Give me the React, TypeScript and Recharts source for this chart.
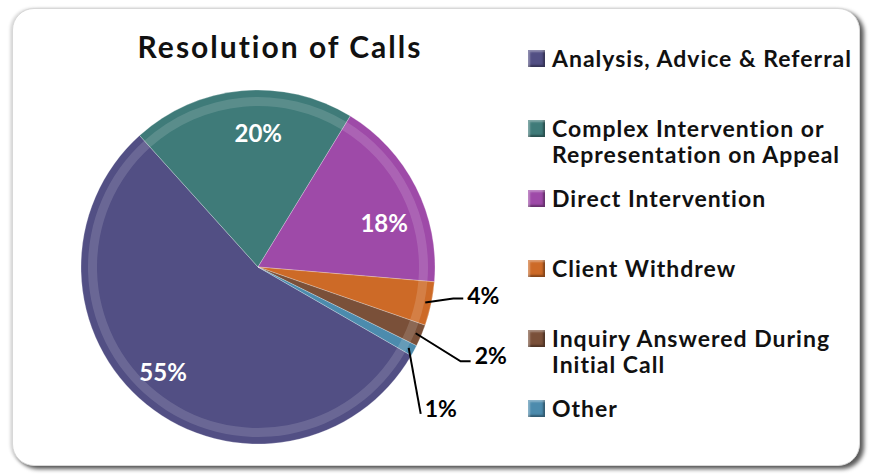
import React from 'react'
import { Cell, Legend, Pie, PieChart } from 'recharts'

const categories = [
  'Analysis, Advice & Referral',
  'Complex Intervention or\nRepresentation on Appeal',
  'Direct Intervention',
  'Client Withdrew',
  'Inquiry Answered During\nInitial Call',
  'Other',
]
const shares = [55, 20.4, 17.6, 4, 2, 1]
const colors = ['#524F84', '#3F7B79', '#9E4AA8', '#CD6A27', '#7A5039', '#4C8BAD']

const data = categories.map((name, i) => ({ name, value: shares[i] }))

const RADIAN = Math.PI / 180
const FONT = 'Lato, "Open Sans", sans-serif'

// nudges for the inside labels, and leader-line bends for the small outside ones
const nudges: Record<number, number[]> = {
  0: [-8, -3],
  1: [13, 3],
  2: [3, 18],
}
const bends: Record<number, number[]> = {
  3: [28, -4],
  4: [45, 28],
  5: [12, 66],
}

const renderLabel = (props: any) => {
  const { cx, cy, midAngle, outerRadius, percent, index } = props
  const text = `${Math.round(percent * 100)}%`
  const cos = Math.cos(-midAngle * RADIAN)
  const sin = Math.sin(-midAngle * RADIAN)
  if (index < 3) {
    const r = outerRadius * 0.78
    const [nx, ny] = nudges[index]
    return (
      <text x={cx + r * cos + nx} y={cy + r * sin + ny} fill='#fff' textAnchor='middle' dominantBaseline='central'
        style={{ fontFamily: FONT, fontWeight: 700, fontSize: 24 }}>
        {text}
      </text>
    )
  }
  const sx = cx + (outerRadius - 6) * cos
  const sy = cy + (outerRadius - 6) * sin
  const [bx, by] = bends[index]
  const mx = sx + bx
  const my = sy + by
  const ex = index === 5 ? mx : mx + 10
  return (
    <g>
      <polyline points={`${sx},${sy} ${mx},${my} ${ex},${my}`} fill='none' stroke='#000' strokeWidth={2} />
      <text x={ex + 4} y={index === 3 ? my - 4 : my - 6} fill='#000' textAnchor='start' dominantBaseline='central'
        style={{ fontFamily: FONT, fontWeight: 700, fontSize: 23 }}>
        {text}
      </text>
    </g>
  )
}

const renderLegend = () => (
  <div style={{ fontFamily: FONT }}>
    {categories.map((c, i) => (
      <div key={c} style={{ height: 70, display: 'flex', alignItems: 'flex-start' }}>
        <span style={{
          display: 'inline-block', width: 17, height: 17, marginTop: 5, marginRight: 7, flexShrink: 0,
          background: colors[i], boxShadow: 'inset 2px 2px 2px rgba(255,255,255,0.35), inset -2px -2px 2px rgba(0,0,0,0.35)',
        }} />
        <span style={{ whiteSpace: 'pre-line', fontSize: 23, fontWeight: 700, letterSpacing: 1, lineHeight: '26px', color: '#111' }}>{c}</span>
      </div>
    ))}
  </div>
)

export default function App() {
  return (
    <div style={{ position: 'absolute', left: 0, top: 0, width: 869, height: 475, background: '#fff' }}>
      <div style={{
        position: 'absolute', left: 12, top: 8, width: 846, height: 456, borderRadius: 22,
        border: '1px solid #d8d8d8', background: '#fff',
        boxShadow: '4px 3px 4px rgba(0,0,0,0.65), -2px 0 3px rgba(0,0,0,0.15)',
      }} />
      <div style={{
        position: 'absolute', left: 80, width: 400, top: 28, textAlign: 'center',
        fontFamily: FONT, fontWeight: 700, fontSize: 30, letterSpacing: 2, color: '#111',
      }}>
        Resolution of Calls
      </div>
      <div style={{ position: 'absolute', left: 0, top: 0 }}>
        <PieChart width={869} height={475} margin={{ top: 0, right: 0, bottom: 0, left: 0 }}>
          <Pie data={data} dataKey='value' nameKey='name' cx={258} cy={267} outerRadius={177}
            startAngle={-30} endAngle={-390} label={renderLabel} labelLine={false} isAnimationActive={false}>
            {data.map((d, i) => (
              <Cell key={d.name} fill={colors[i]} stroke='rgba(255,255,255,0.25)' strokeWidth={1} />
            ))}
          </Pie>
          <Pie data={data} dataKey='value' cx={258} cy={267} innerRadius={161} outerRadius={170}
            startAngle={-30} endAngle={-390} isAnimationActive={false} legendType='none'>
            {data.map((d) => (
              <Cell key={d.name} fill='rgba(255,255,255,0.14)' stroke='none' />
            ))}
          </Pie>
          <Legend layout='vertical' verticalAlign='top' align='right' content={renderLegend}
            wrapperStyle={{ left: 528, top: 45, width: 335 }} />
        </PieChart>
      </div>
    </div>
  )
}
